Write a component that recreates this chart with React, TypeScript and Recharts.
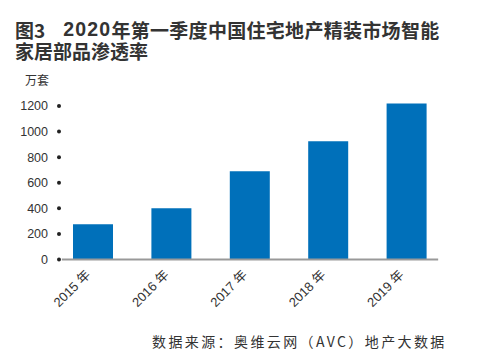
import React from 'react';
import { BarChart, Bar, XAxis, YAxis, ReferenceLine } from 'recharts';

const categories = ['2015 年', '2016 年', '2017 年', '2018 年', '2019 年'];
const values = [275, 400, 690, 925, 1220];
const yTicks = [0, 200, 400, 600, 800, 1000, 1200];

const data = categories.map((c, i) => ({ name: c, idx: i, value: values[i] }));

const FONT = '"Noto Sans CJK SC", "Liberation Sans", sans-serif';

const YTick = (props: any) => {
  const { x, y, payload } = props;
  return (
    <g>
      <text x={x - 6} y={y} dy={4.5} textAnchor="end" fontSize={12.5} fill="#333" fontFamily='"Liberation Sans", Arial, sans-serif'>
        {payload.value}
      </text>
      <circle cx={x + 5} cy={y} r={2} fill="#222" />
    </g>
  );
};

const XTick = (props: any) => {
  const { x, y, payload } = props;
  const px = x - 2;
  const py = y + 16;
  return (
    <text x={px} y={py} textAnchor="end" fontSize={13} fill="#333" fontFamily='"Liberation Sans", "Noto Sans CJK SC", sans-serif' transform={`rotate(-45, ${px}, ${py})`}>
      {payload.value}
    </text>
  );
};

const lineSpan: React.CSSProperties = { display: 'inline-block', height: 21, lineHeight: '21px', verticalAlign: 'top' };

export default function App() {
  return (
    <div style={{ position: 'absolute', left: 0, top: 0, width: 477, height: 363, background: '#fff', overflow: 'hidden' }}>
      <div style={{ position: 'absolute', left: 15, top: 19, fontFamily: FONT, fontWeight: 'bold', fontSize: 19, lineHeight: '21px', color: '#333', whiteSpace: 'nowrap' }}>
        <div style={{ height: 21 }}>
          <span style={lineSpan}>图3</span>
          <span style={{ ...lineSpan, marginLeft: 18, fontFamily: '"Liberation Sans", sans-serif', fontSize: 19.5, letterSpacing: 1.2 }}>2020</span>
          <span style={{ ...lineSpan, letterSpacing: 0.3 }}>年第一季度中国住宅地产精装市场智能</span>
        </div>
        <div style={{ height: 21 }}>
          <span style={lineSpan}>家居部品渗透率</span>
        </div>
      </div>
      <div style={{ position: 'absolute', left: 25, top: 71, fontFamily: FONT, fontSize: 12, color: '#333' }}>万套</div>
      <BarChart width={477} height={363} data={data} margin={{ top: 99.6, right: 31, bottom: 43.5, left: 0 }}>
        <XAxis dataKey="name" xAxisId="cat" axisLine={false} tickLine={false} tickSize={0} tickMargin={0} height={60} tick={<XTick />} interval={0} />
        <XAxis dataKey="idx" xAxisId="num" type="number" domain={[0, 5]} hide />
        <YAxis width={54} domain={[0, 1250]} ticks={yTicks} axisLine={false} tickLine={false} tickSize={0} tickMargin={0} tick={<YTick />} interval={0} />
        <Bar dataKey="value" xAxisId="cat" fill="#0070BA" barSize={40} isAnimationActive={false} />
        <ReferenceLine xAxisId="num" segment={[{ x: 0.1, y: 0 }, { x: 4.9, y: 0 }]} stroke="#999" strokeWidth={2} ifOverflow="visible" />
      </BarChart>
      <div style={{ position: 'absolute', left: 152, top: 331, fontFamily: FONT, fontSize: 14, letterSpacing: 2.4, color: '#333', whiteSpace: 'nowrap' }}>
        数据来源：奥维云网（AVC）地产大数据
      </div>
    </div>
  );
}
